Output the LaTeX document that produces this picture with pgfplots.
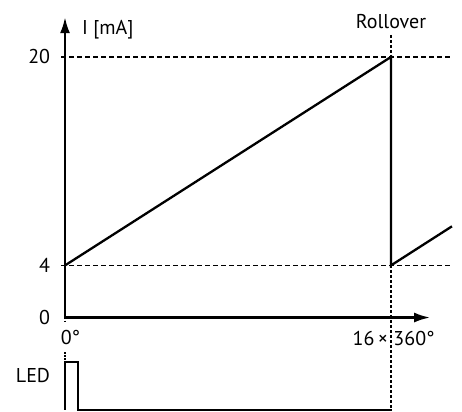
\documentclass[border=0pt]{standalone}
\usepackage{fontspec}
\setmainfont{PT Sans}
\usepackage{pgfplots}
\pgfplotsset{compat=1.18}
\usetikzlibrary{arrows.meta}
\begin{document}
\begin{tikzpicture}[every node/.style={font=\fontsize{20}{24}\selectfont}]
\begin{axis}[
  scale only axis,
  x=326pt, y=13.03pt,
  xmin=-0.1994, xmax=1.2178,
  ymin=-7.245, ymax=24.37,
  axis lines=none, ticks=none,
  clip=false,
  every axis plot/.append style={black},
]
\path (rel axis cs:0,0) rectangle (rel axis cs:1,1);
% dashed reference lines
\addplot[line width=1.2pt, dash pattern=on 5pt off 3pt] coordinates {(-0.012,20) (1.19,20)};
\addplot[line width=1.2pt, dash pattern=on 5pt off 3pt] coordinates {(-0.012,4) (1.19,4)};
% rollover vertical
\addplot[line width=1.2pt, dash pattern=on 3pt off 2pt] coordinates {(1,21.7) (1,-7.09)};
% 0 degree vertical dotted
\addplot[line width=1.2pt, dash pattern=on 1.5pt off 1.5pt] coordinates {(0,0) (0,-0.35)};
\addplot[line width=1.2pt, dash pattern=on 1.5pt off 1.5pt] coordinates {(0,-2.65) (0,-3.41)};
% axes
\addplot[line width=2.3pt, -{Latex[length=16pt,width=10pt]}] coordinates {(0,-0.08) (0,23.05)};
\addplot[line width=2.3pt, -{Latex[length=16pt,width=10pt]}] coordinates {(-0.003,0) (1.12,0)};
% current signal
\addplot[line width=2.3pt, line join=miter] coordinates {(0,4) (1,20) (1,4) (1.187,7.0)};
% LED pulse
\addplot[line width=2.3pt, line join=miter] coordinates {(0,-7.09) (0,-3.41) (0.04,-3.41) (0.04,-7.09) (1.003,-7.09)};
% labels
\node[anchor=east] at (axis cs:-0.035,20) {20};
\node[anchor=east] at (axis cs:-0.035,4) {4};
\node[anchor=east] at (axis cs:-0.035,0) {0};
\node[anchor=west] at (axis cs:0.042,22.07) {I [mA]};
\node at (axis cs:1,22.75) {Rollover};
\node at (axis cs:0.017,-1.56) {0°};
\node[anchor=base east, inner sep=0pt] at (axis cs:0.991,-2.18) {16\,×};
\node[anchor=base west, inner sep=0pt] at (axis cs:1.007,-2.18) {360°};
\node[anchor=east] at (axis cs:-0.035,-4.48) {LED};
\end{axis}
\end{tikzpicture}
\end{document}
